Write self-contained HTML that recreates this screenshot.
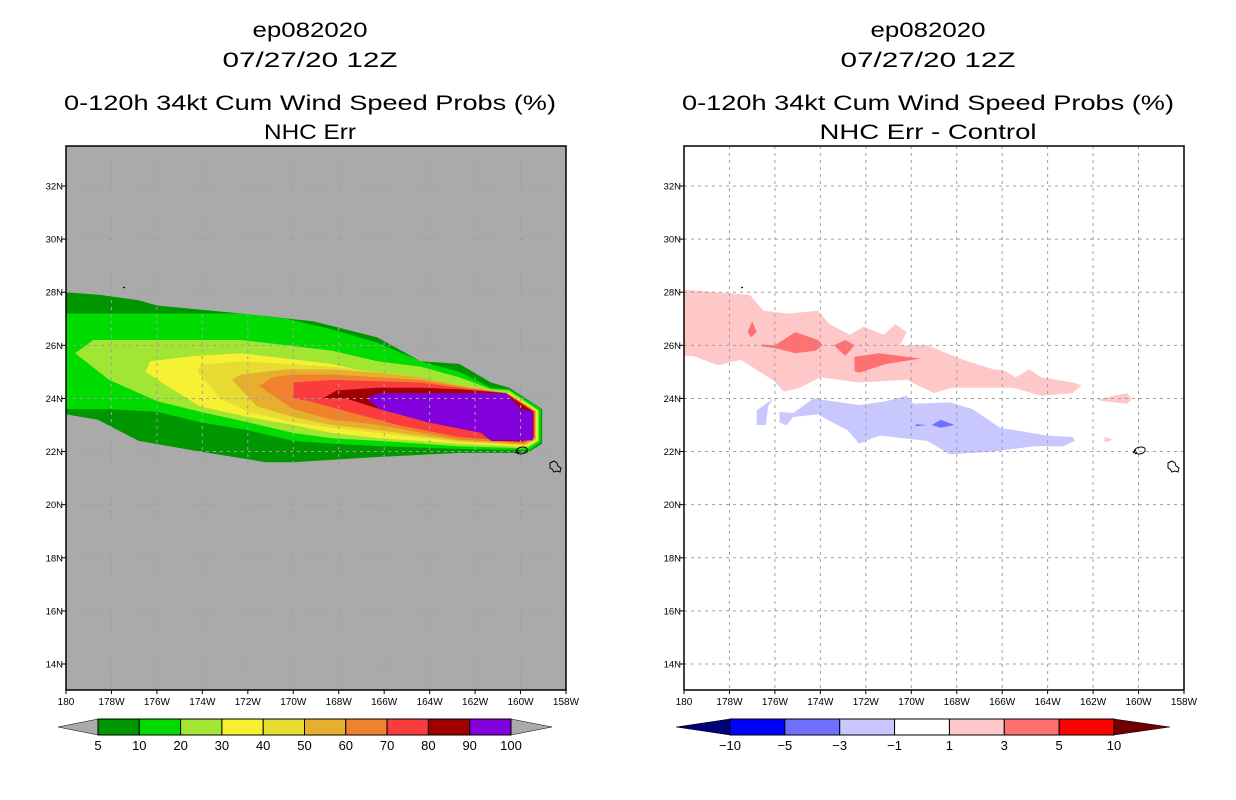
<!DOCTYPE html>
<html><head><meta charset="utf-8"><style>
html,body{margin:0;padding:0;background:#fff;}
svg{display:block;font-family:"Liberation Sans",sans-serif;}
</style></head><body>
<svg id="chart" width="1236" height="800" viewBox="0 0 1236 800" xmlns="http://www.w3.org/2000/svg">
<g id="left"></g>
<g id="right"></g>
</svg>
<script>
// ---------- data ----------
const lonTicks = [180,178,176,174,172,170,168,166,164,162,160,158];
const lonLabels = ["180","178W","176W","174W","172W","170W","168W","166W","164W","162W","160W","158W"];
const latTicks = [14,16,18,20,22,24,26,28,30,32];
const latLabels = ["14N","16N","18N","20N","22N","24N","26N","28N","30N","32N"];
const probLevels = [5,10,20,30,40,50,60,70,80,90,100];
const probColors = ["#009600","#00dc00","#a0e632","#f5f032","#e6dc32","#e6af2d","#f0822d","#fa3c3c","#a00000","#8200dc"];
const diffLevels = ["-10","-5","-3","-1","1","3","5","10"];
const diffColors = ["#0000ff","#7070ff","#c8c8ff","#ffffff","#ffc8c8","#ff7070","#ff0000"];

// contour polygons [lonW, lat]
const c5 = [[180,28.0],[178.5,27.9],[176.8,27.7],[176,27.5],[172.3,27.2],[169.1,26.9],[166.3,26.3],[164.4,25.4],[162.7,25.3],[161.3,24.6],[160.5,24.4],[159.05,23.6],[159.05,22.3],[159.7,21.95],[162.7,21.95],[166.2,21.8],[170,21.6],[171.2,21.6],[174.1,22.0],[176.8,22.4],[178.6,23.2],[180,23.4]];
const c10 = [[180,27.2],[172.3,27.2],[170.3,27.0],[168.3,26.6],[166.3,26.1],[164.4,25.4],[162.7,25.0],[161.3,24.4],[160.5,24.35],[159.1,23.6],[159.1,22.35],[159.6,22.05],[162.7,22.1],[166.2,22.2],[168.3,22.3],[170,22.4],[172,22.8],[174.1,23.1],[176,23.5],[178.1,23.6],[180,23.6]];
const c20 = [[179.6,25.7],[178.8,26.2],[172.3,26.2],[170.3,26.0],[168.3,25.8],[166.3,25.4],[164.4,25.2],[162.7,24.8],[161.3,24.35],[160.5,24.3],[159.2,23.55],[159.2,22.4],[159.7,22.12],[162.7,22.2],[166.2,22.4],[168.3,22.5],[170,22.7],[172,23.1],[174.1,23.5],[176,23.9],[178.1,24.7]];
const c30 = [[176.5,25.0],[176.3,25.4],[174.4,25.6],[172.3,25.7],[170.3,25.5],[168.3,25.3],[166.3,24.9],[164.4,24.7],[162.7,24.3],[161.3,24.2],[160.5,24.2],[159.25,23.55],[159.25,22.42],[159.75,22.18],[162.7,22.3],[166.2,22.5],[168.3,22.7],[170,23.0],[172,23.3],[174.1,23.7],[175.6,24.5]];
const c40 = [[174.2,25.0],[174.1,25.26],[172.3,25.4],[170.3,25.3],[168.3,25.2],[166.3,25.0],[164.4,24.8],[162.7,24.5],[160.55,24.2],[159.3,23.54],[159.3,22.44],[159.8,22.22],[162.7,22.35],[166.2,22.7],[168.3,22.9],[170,23.1],[172,23.5],[173.2,24.0]];
const c50 = [[172.7,24.7],[172.3,24.9],[170.3,25.1],[168.3,25.1],[166.3,24.97],[164.4,24.8],[162.7,24.5],[160.6,24.2],[159.33,23.53],[159.33,22.46],[159.8,22.26],[162.7,22.4],[166.2,22.8],[168.3,23.0],[170,23.3],[171.6,23.7]];
const c60 = [[171.5,24.47],[170.9,24.8],[170,24.9],[168.3,24.9],[166.3,24.8],[164.4,24.7],[162.7,24.45],[160.6,24.2],[159.36,23.52],[159.36,22.48],[159.85,22.3],[162.7,22.45],[166.2,23.0],[168.3,23.2],[170,23.6],[170.7,24.0]];
const c70 = [[170,24.6],[168.3,24.7],[166.3,24.65],[164.4,24.6],[162.7,24.4],[160.6,24.2],[159.4,23.51],[159.4,22.5],[159.9,22.34],[161.2,22.45],[162.7,22.55],[165.4,23.0],[167.6,23.5],[169.3,23.9],[170,24.0]];
const c80 = [[168.7,24.0],[168.1,24.3],[166.3,24.4],[164.4,24.4],[162.7,24.35],[160.7,24.2],[159.43,23.5],[159.43,22.52],[159.95,22.38],[161.3,22.4],[161.8,22.75],[164.1,23.25],[166.2,23.6],[167.7,24.0]];
const c90 = [[166.8,24.0],[166.2,24.2],[160.65,24.2],[160.0,23.6],[159.46,23.5],[159.46,22.42],[161.3,22.42],[161.7,22.7],[164.1,23.1],[166.2,23.6]];

// difference regions
const pinkMain = [[180,28.1],[177.1,27.9],[176.5,27.3],[175.4,27.2],[174.1,27.3],[173.6,26.8],[172.7,26.4],[172.1,26.7],[171.2,26.4],[170.7,26.8],[170.2,26.5],[170.5,26.0],[169.3,26.0],[167.7,25.45],[166.4,25.1],[165.9,25.05],[165.4,24.8],[164.8,25.1],[164.3,24.8],[162.9,24.6],[162.5,24.5],[162.9,24.2],[164.3,24.1],[165.5,24.4],[167.0,24.4],[168.2,24.4],[169.0,24.2],[170.2,24.7],[172.3,24.6],[174.0,24.8],[174.9,24.4],[175.6,24.25],[176.1,24.7],[177.5,25.45],[178.5,25.25],[179.6,25.6],[180,25.6]];
const pinkEast = [[161.8,23.97],[160.5,24.2],[160.3,23.97],[160.5,23.8],[161.6,23.9]];
const pinkTiny = [[161.5,22.55],[161.1,22.45],[161.5,22.35]];
const redA = [[177.0,26.9],[176.8,26.5],[177.05,26.3],[177.2,26.5]];
const redB = [[176.6,26.03],[176.0,26.0],[175.1,26.5],[174.1,26.2],[173.9,26.0],[174.2,25.8],[175.1,25.7],[176.0,25.9],[176.6,25.96]];
const redC = [[173.4,26.0],[172.9,26.2],[172.5,26.0],[172.9,25.6]];
const redD = [[172.5,25.57],[171.4,25.7],[169.6,25.5],[171.1,25.3],[172.3,24.97],[172.5,25.03]];
const blueWest = [[176.8,23.55],[176.1,23.98],[176.3,23.7],[176.4,23.0],[176.8,23.0]];
const blueMain = [[175.8,23.5],[175.2,23.45],[174.3,24.0],[172.3,23.75],[171.1,23.9],[170.2,24.1],[169.9,23.8],[168.3,23.85],[167.3,23.6],[166.1,22.9],[164.0,22.6],[162.9,22.55],[162.8,22.4],[163.3,22.2],[164.6,22.2],[165.5,22.1],[166.4,22.0],[168.3,21.9],[169.3,22.4],[171.4,22.6],[172.3,22.3],[172.8,22.8],[173.7,23.2],[174.1,23.4],[175.2,23.3],[175.5,22.98],[175.8,23.1]];
const darkBlueA = [[169.8,23.03],[169.3,23.0],[169.8,22.95]];
const darkBlueB = [[169.1,23.0],[168.7,23.2],[168.1,23.0],[168.7,22.9]];

// ---------- drawing ----------
const NS = "http://www.w3.org/2000/svg";
const PX = 22.727, PY = 26.556, Y0 = 186;
function mk(tag, attrs, parent){const e=document.createElementNS(NS,tag);for(const k in attrs)e.setAttribute(k,attrs[k]);parent.appendChild(e);return e;}
function xs(x0){return lon=>x0+(180-lon)*PX;}
function ys(lat){return Y0+(32-lat)*PY;}

function poly(g, pts, x, fill, name){
  const p = mk("polygon",{points:pts.map(q=>x(q[0]).toFixed(1)+","+ys(q[1]).toFixed(1)).join(" "),fill:fill},g);
  
  
}
function text(g, s, x, y, size, anchor, name, len){
  const t = mk("text",{x:x,y:y,"font-size":size,"text-anchor":anchor,fill:"#000"},g);
  if(len){t.setAttribute("textLength",len);t.setAttribute("lengthAdjust","spacingAndGlyphs");}
  t.textContent = s;
  
  
}

function panel(g, x0, bg, titles, grid){
  const x = xs(x0);
  const bgr = mk("rect",{x:x0,y:146,width:500,height:544,fill:bg},g);
  
  
  const cx = x0 + 244;
  text(g, titles[0], cx, 37, 21, "middle", "title-storm-id", 115);
  text(g, titles[1], cx, 67, 21, "middle", "title-date", 175);
  text(g, titles[2], cx, 110, 21, "middle", "title-product", 492);
  text(g, titles[3], cx, 139, 21, "middle", "title-subtitle", titles[4]);
  return x;
}
function gridAndAxes(g, x0, x){
  const gg = mk("g",{stroke:"#a0a0a0","stroke-width":1,"stroke-dasharray":"3,4"},g);
  
  
  lonTicks.forEach(l=>{ if(l<180&&l>158) mk("line",{x1:x(l),y1:146,x2:x(l),y2:690},gg); });
  latTicks.forEach(l=>{ mk("line",{x1:x0,y1:ys(l),x2:x0+500,y2:ys(l)},gg); });
  // islands
  const isl = mk("g",{fill:"none",stroke:"#000","stroke-width":1},g);
  
  
  mk("path",{d:`M${x0+449} ${453} l3 -3 M${x0+451} 454 l2 -2`},isl);
  mk("path",{d:`M${x0+450} ${451} q2 -4 7 -4 q5 0 4 4 q-2 3 -6 3 q-4 0 -5 -3z`},isl);
  mk("path",{d:`M${x0+484} 463 l4 -2 l3 2 l1 3 l3 2 l-1 4 l-3 -1 l-3 1 l-2 -3 l-2 -1z`},isl);
  mk("path",{d:`M${x0+57} 288 l2 -1`},isl);
  // frame & ticks
  const fr = mk("rect",{x:x0,y:146,width:500,height:544,fill:"none",stroke:"#000","stroke-width":1.5},g);
  
  
  latTicks.forEach((l,i)=>{
    mk("line",{x1:x0-5,y1:ys(l),x2:x0,y2:ys(l),stroke:"#000","stroke-width":1},g);
    text(g, latLabels[i], x0-3, ys(l)+3.5, 9.5, "end", "lat-label");
  });
  lonTicks.forEach((l,i)=>{
    mk("line",{x1:x(l),y1:690,x2:x(l),y2:694,stroke:"#000","stroke-width":1},g);
    text(g, lonLabels[i], x(l), 705, 10, "middle", "lon-label");
  });
}

// Left panel
const L = document.getElementById("left");
const xl = panel(L, 66, "#aaaaaa", ["ep082020","07/27/20 12Z","0-120h 34kt Cum Wind Speed Probs (%)","NHC Err",92]);
[c5,c10,c20,c30,c40,c50,c60,c70,c80,c90].forEach((c,i)=>poly(L,c,xl,probColors[i],"prob-contour-"+probLevels[i]));
gridAndAxes(L, 66, xl);
// left colorbar
(function(){
  const g = mk("g",{},L);  
  const bx0=98, bx1=511, n=probColors.length, w=(bx1-bx0)/n;
  mk("polygon",{points:`58,727 ${bx0},719 ${bx0},735`,fill:"#aaaaaa",stroke:"#000","stroke-width":0.5},g);
  mk("polygon",{points:`552,727 ${bx1},719 ${bx1},735`,fill:"#aaaaaa",stroke:"#000","stroke-width":0.5},g);
  probColors.forEach((c,i)=>{ mk("rect",{x:bx0+i*w,y:719,width:w,height:16,fill:c,stroke:"#000","stroke-width":1},g); });
  probLevels.forEach((v,i)=>text(g,String(v),bx0+i*w,750,13,"middle","colorbar-label"));
})();

// Right panel
const R = document.getElementById("right");
const xr = panel(R, 684, "#ffffff", ["ep082020","07/27/20 12Z","0-120h 34kt Cum Wind Speed Probs (%)","NHC Err - Control",217]);
poly(R,pinkMain,xr,"#ffc8c8","diff-1-3-main");
poly(R,pinkEast,xr,"#ffc8c8","diff-1-3-east");
poly(R,pinkTiny,xr,"#ffc8c8","diff-1-3-tiny");
[redA,redB,redC,redD].forEach((c,i)=>poly(R,c,xr,"#ff7070","diff-3-5-"+i));
poly(R,blueWest,xr,"#c8c8ff","diff-neg1-neg3-west");
poly(R,blueMain,xr,"#c8c8ff","diff-neg1-neg3-main");
poly(R,darkBlueA,xr,"#7070ff","diff-neg3-neg5-a");
poly(R,darkBlueB,xr,"#7070ff","diff-neg3-neg5-b");
gridAndAxes(R, 684, xr);
(function(){
  const g = mk("g",{},R);  
  const bx0=730, bx1=1114, n=diffColors.length, w=(bx1-bx0)/n;
  mk("polygon",{points:`676,727 ${bx0},719 ${bx0},735`,fill:"#000078",stroke:"#000","stroke-width":0.5},g);
  mk("polygon",{points:`1170,727 ${bx1},719 ${bx1},735`,fill:"#6e0000",stroke:"#000","stroke-width":0.5},g);
  diffColors.forEach((c,i)=>{ mk("rect",{x:bx0+i*w,y:719,width:w,height:16,fill:c,stroke:"#000","stroke-width":1},g); });
  diffLevels.forEach((v,i)=>text(g,v.replace("-","\u2212"),bx0+i*w,750,13,"middle","colorbar-label"));
})();
</script>
</body></html>
